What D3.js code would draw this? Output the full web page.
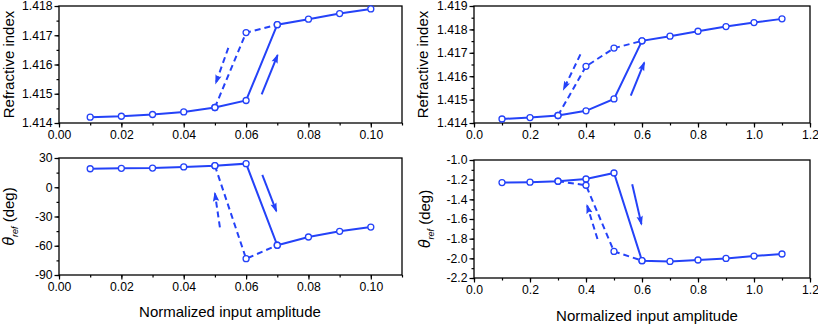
<!DOCTYPE html>
<html>
<head>
<meta charset="utf-8">
<script src="https://cdn.jsdelivr.net/npm/d3@7"></script>
<style>
  body { margin: 0; background: #fff; }
  svg { display: block; font-family: "Liberation Sans", Arial, sans-serif; }
  .tick text { font-size: 12.2px; fill: #000; }
</style>
</head>
<body>
<svg id="chart" width="818" height="325"></svg>
<script>
// ---- data ----
const ampSmall = [0.01, 0.02, 0.03, 0.04, 0.05, 0.06, 0.07, 0.08, 0.09, 0.10];
const nUpSmall = [1.41420, 1.41423, 1.41429, 1.41438, 1.41453, 1.41477, 1.41736, 1.41755, 1.41774, 1.41790];
const ampDownSmall = [0.05, 0.06, 0.07];
const nDownSmall = [1.41453, 1.41709, 1.41736];
const thUpSmall = [19.0, 19.4, 19.7, 20.8, 22.1, 24.2, -59.5, -51.0, -45.2, -40.8];
const thDownSmall = [22.1, -73.3, -59.5];

const ampLarge = [0.1, 0.2, 0.3, 0.4, 0.5, 0.6, 0.7, 0.8, 0.9, 1.0, 1.1];
const nUpLarge = [1.41417, 1.41423, 1.41432, 1.41452, 1.41503, 1.41751, 1.41771, 1.41792, 1.41812, 1.41829, 1.41845];
const ampDownLarge = [0.3, 0.4, 0.5, 0.6];
const nDownLarge = [1.41432, 1.41642, 1.41720, 1.41751];
const thUpLarge = [-1.230, -1.226, -1.216, -1.193, -1.132, -2.024, -2.031, -2.017, -2.001, -1.977, -1.956];
const thDownLarge = [-1.216, -1.257, -1.930, -2.024];

// tick values
const xTicksSmall = [0, 0.02, 0.04, 0.06, 0.08, 0.10];
const xTicksLarge = [0, 0.2, 0.4, 0.6, 0.8, 1.0, 1.2];
const nTicksSmall = [1.414, 1.415, 1.416, 1.417, 1.418];
const nTicksLarge = [1.414, 1.415, 1.416, 1.417, 1.418, 1.419];
const thTicksSmall = [-90, -60, -30, 0, 30];
const thTicksLarge = [-2.2, -2.0, -1.8, -1.6, -1.4, -1.2, -1.0];

// direction arrows [x0, y0, x1, y1] in data units
const arrowsNSmall = { up: [0.0650, 1.41498, 0.0701, 1.41632], down: [0.0543, 1.41657, 0.0503, 1.41537] };
const arrowsThSmall = { up: [0.0652, 12.6, 0.0697, -24.4], down: [0.0516, -41.1, 0.0500, -6.2] };
const arrowsNLarge = { up: [0.560, 1.41517, 0.608, 1.41658], down: [0.380, 1.41693, 0.320, 1.41544] };
const arrowsThLarge = { up: [0.565, -1.246, 0.598, -1.652], down: [0.441, -1.804, 0.404, -1.463] };

const blue = '#2442f8';
const svg = d3.select('#chart');

svg.append('defs').append('marker')
  .attr('id', 'head')
  .attr('viewBox', '0 -5 12 10')
  .attr('refX', 10).attr('refY', 0)
  .attr('markerUnits', 'userSpaceOnUse')
  .attr('markerWidth', 10).attr('markerHeight', 8)
  .attr('orient', 'auto')
  .append('path')
  .attr('d', 'M0,-4L12,0L0,4L2,0Z')
  .attr('fill', blue);

const panels = [
  { box: [59, 6, 402, 123], xd: [0, 0.11], xt: xTicksSmall, xm: 0.01, xf: '.2f',
    yd: [1.414, 1.418], yt: nTicksSmall, ym: 0.0005, yf: '.3f',
    x: ampSmall, up: nUpSmall, xdn: ampDownSmall, dn: nDownSmall, arr: arrowsNSmall,
    title: 'n', tx: 14, xlabel: false },
  { box: [59, 158, 402, 275], xd: [0, 0.11], xt: xTicksSmall, xm: 0.01, xf: '.2f',
    yd: [-90, 30], yt: thTicksSmall, ym: 15, yf: 'd',
    x: ampSmall, up: thUpSmall, xdn: ampDownSmall, dn: thDownSmall, arr: arrowsThSmall,
    title: 'th', tx: 14, xlabel: true, lx: 230, ly: 317 },
  { box: [474, 6, 810, 123], xd: [0, 1.2], xt: xTicksLarge, xm: 0.1, xf: '.1f',
    yd: [1.414, 1.419], yt: nTicksLarge, ym: 0.0005, yf: '.3f',
    x: ampLarge, up: nUpLarge, xdn: ampDownLarge, dn: nDownLarge, arr: arrowsNLarge,
    title: 'n', tx: 428, xlabel: false },
  { box: [474, 160, 810, 278], xd: [0, 1.2], xt: xTicksLarge, xm: 0.1, xf: '.1f',
    yd: [-2.2, -1.0], yt: thTicksLarge, ym: 0.1, yf: '.1f',
    x: ampLarge, up: thUpLarge, xdn: ampDownLarge, dn: thDownLarge, arr: arrowsThLarge,
    title: 'th', tx: 430, xlabel: true, lx: 647, ly: 321 }
];

function minorTicks(domain, step) {
  const out = [];
  const n = Math.round((domain[1] - domain[0]) / step);
  for (let i = 0; i <= n; i++) out.push(domain[0] + i * step);
  return out;
}

// plain hyphen for negatives, as in the original figure
const fmt = spec => {
  const f = d3.format(spec);
  return d => f(d).replace('\u2212', '-');
};

panels.forEach(p => {
  const [x0, y0, x1, y1] = p.box;
  const x = d3.scaleLinear().domain(p.xd).range([x0, x1]);
  const y = d3.scaleLinear().domain(p.yd).range([y1, y0]);
  const g = svg.append('g');

  // minor ticks
  g.append('g').attr('transform', `translate(0,${y1})`)
    .call(d3.axisBottom(x).tickValues(minorTicks(p.xd, p.xm)).tickSize(2.5).tickFormat(''))
    .call(a => a.select('.domain').remove());
  g.append('g').attr('transform', `translate(${x0},0)`)
    .call(d3.axisLeft(y).tickValues(minorTicks(p.yd, p.ym)).tickSize(2.5).tickFormat(''))
    .call(a => a.select('.domain').remove());

  // major ticks
  g.append('g').attr('transform', `translate(0,${y1})`)
    .call(d3.axisBottom(x).tickValues(p.xt).tickSize(4.5).tickPadding(3).tickFormat(fmt(p.xf)))
    .call(a => a.select('.domain').remove());
  g.append('g').attr('transform', `translate(${x0},0)`)
    .call(d3.axisLeft(y).tickValues(p.yt).tickSize(4.5).tickPadding(2).tickFormat(fmt(p.yf)))
    .call(a => a.select('.domain').remove());
  g.selectAll('.tick line').attr('stroke', '#000').attr('stroke-width', 1.2);

  // frame
  g.append('rect')
    .attr('x', x0).attr('y', y0).attr('width', x1 - x0).attr('height', y1 - y0)
    .attr('fill', 'none').attr('stroke', '#000').attr('stroke-width', 1.3);

  const line = d3.line().x(d => x(d[0])).y(d => y(d[1]));
  const upPts = p.x.map((v, i) => [v, p.up[i]]);
  const dnPts = p.xdn.map((v, i) => [v, p.dn[i]]);

  g.append('path').datum(dnPts).attr('d', line)
    .attr('fill', 'none').attr('stroke', blue).attr('stroke-width', 2)
    .attr('stroke-dasharray', '6,4');
  g.append('path').datum(upPts).attr('d', line)
    .attr('fill', 'none').attr('stroke', blue).attr('stroke-width', 2);

  // arrows
  const up = p.arr.up, dn = p.arr.down;
  g.append('line')
    .attr('x1', x(up[0])).attr('y1', y(up[1])).attr('x2', x(up[2])).attr('y2', y(up[3]))
    .attr('stroke', blue).attr('stroke-width', 2).attr('marker-end', 'url(#head)');
  g.append('line')
    .attr('x1', x(dn[0])).attr('y1', y(dn[1])).attr('x2', x(dn[2])).attr('y2', y(dn[3]))
    .attr('stroke', blue).attr('stroke-width', 2).attr('stroke-dasharray', '6,4')
    .attr('marker-end', 'url(#head)');

  // markers
  g.selectAll('circle.dn').data(dnPts).enter().append('circle')
    .attr('cx', d => x(d[0])).attr('cy', d => y(d[1])).attr('r', 3)
    .attr('fill', '#fff').attr('stroke', blue).attr('stroke-width', 1.3);
  g.selectAll('circle.up').data(upPts).enter().append('circle')
    .attr('cx', d => x(d[0])).attr('cy', d => y(d[1])).attr('r', 3)
    .attr('fill', '#fff').attr('stroke', blue).attr('stroke-width', 1.3);

  // y title
  const cy = (y0 + y1) / 2;
  const t = g.append('text')
    .attr('transform', `translate(${p.tx},${cy}) rotate(-90)`)
    .attr('text-anchor', 'middle')
    .attr('font-size', 15).attr('fill', '#000');
  if (p.title === 'n') {
    t.text('Refractive index');
  } else {
    t.append('tspan').attr('font-style', 'italic').attr('font-size', 16).text('θ');
    t.append('tspan').attr('font-style', 'italic').attr('font-size', 9).attr('dy', 4).text('ref');
    t.append('tspan').attr('dy', -4).text(' (deg)');
  }

  if (p.xlabel) {
    g.append('text').attr('x', p.lx).attr('y', p.ly)
      .attr('text-anchor', 'middle').attr('font-size', 15).attr('fill', '#000')
      .text('Normalized input amplitude');
  }
});
</script>
</body>
</html>
